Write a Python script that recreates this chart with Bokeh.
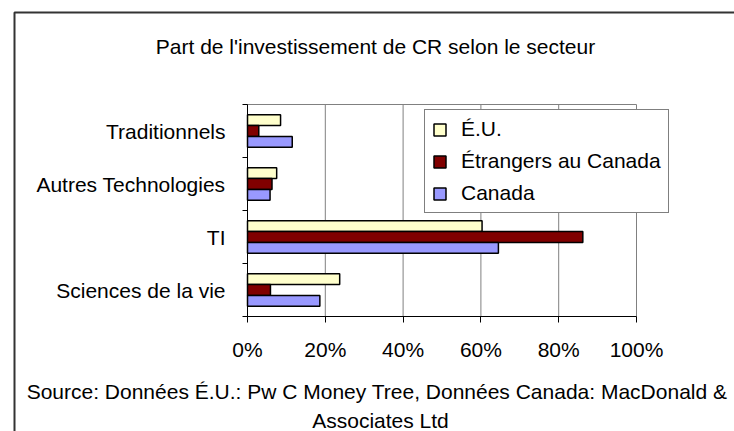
from bokeh.plotting import figure
from bokeh.models import Range1d, FixedTicker, LinearAxis, Label, Legend
from bokeh.embed import file_html
from bokeh.resources import INLINE

# ---- data ----
categories = ["Traditionnels", "Autres Technologies", "TI", "Sciences de la vie"]  # top to bottom
series_names = ["É.U.", "Étrangers au Canada", "Canada"]
eu = [8.5, 7.5, 60.3, 23.7]
etrangers = [2.9, 6.3, 86.2, 5.9]
canada = [11.5, 5.8, 64.5, 18.6]
x_ticks = [0, 20, 40, 60, 80, 100]
x_tick_labels = ["0%", "20%", "40%", "60%", "80%", "100%"]
title_text = "Part de l'investissement de CR selon le secteur"
source_lines = ["Source: Données É.U.: Pw C Money Tree, Données Canada: MacDonald &",
                "Associates Ltd"]

FONT = "Liberation Sans"
FS = "21px"
colors = ["#FFFFCC", "#800000", "#9999FF"]

# ---- layout (canvas pixels) ----
W, H = 734, 431
PX0, PX100 = 247, 636      # x pixel of 0% and 100%
PY0, PYN = 316, 104        # y pixel of bottom and top of the category band
n = len(categories)

def px2x(px):
    return (px - PX0) / (PX100 - PX0) * 100.0

def px2y(py):
    return (PY0 - py) / (PY0 - PYN) * n

p = figure(width=W, height=H, output_backend="svg", toolbar_location=None,
           x_range=Range1d(px2x(0), px2x(W)), y_range=Range1d(px2y(H), px2y(0)),
           x_axis_type=None, y_axis_type=None, min_border=0)
p.background_fill_color = "white"
p.border_fill_color = "white"
p.outline_line_color = None
p.xgrid.grid_line_color = None
p.ygrid.grid_line_color = None

# outer chart border (left and top edges visible)
p.line(x=[px2x(14), px2x(14), px2x(W + 20)], y=[px2y(H + 20), px2y(12), px2y(12)],
       line_color="#333333", line_width=2)

# gridlines and plot-area top edge
p.segment(x0=x_ticks, y0=0, x1=x_ticks, y1=n, line_color="#808080", line_width=1)
p.segment(x0=[x_ticks[0]], y0=[n], x1=[x_ticks[-1]], y1=[n], line_color="#808080", line_width=1)

centers = [n - i - 0.5 for i in range(n)]
bar_h = 0.205
offsets = [bar_h, 0.0, -bar_h]
items = []
for vals, off, col, name in zip([eu, etrangers, canada], offsets, colors, series_names):
    r = p.hbar(y=[c + off for c in centers], left=0, right=vals, height=bar_h,
               fill_color=col, line_color="black", line_width=1.5)
    items.append((name, [r]))

# x axis
xaxis = LinearAxis(ticker=FixedTicker(ticks=x_ticks, minor_ticks=[]),
                   major_label_overrides={t: l for t, l in zip(x_ticks, x_tick_labels)},
                   fixed_location=0, bounds=(x_ticks[0], x_ticks[-1]))
xaxis.axis_line_color = "black"
xaxis.major_tick_line_color = "black"
xaxis.major_tick_out = 6
xaxis.major_tick_in = 0
xaxis.major_label_standoff = 15
xaxis.major_label_text_font = FONT
xaxis.major_label_text_font_size = FS
xaxis.major_label_text_color = "black"
p.add_layout(xaxis, "below")

# y axis: labels at category centers, ticks at category boundaries
yaxis = LinearAxis(ticker=FixedTicker(ticks=centers, minor_ticks=list(range(n + 1))),
                   major_label_overrides={c: cat for c, cat in zip(centers, categories)},
                   fixed_location=0, bounds=(0, n))
yaxis.axis_line_color = "black"
yaxis.major_tick_line_color = None
yaxis.major_tick_out = 0
yaxis.major_tick_in = 0
yaxis.minor_tick_line_color = "black"
yaxis.minor_tick_out = 5
yaxis.minor_tick_in = 0
yaxis.major_label_standoff = 17
yaxis.major_label_text_font = FONT
yaxis.major_label_text_font_size = FS
yaxis.major_label_text_color = "black"
p.add_layout(yaxis, "left")

legend = Legend(items=items, location=(424, H - 213))
legend.label_text_font = FONT
legend.label_text_font_size = FS
legend.label_text_color = "black"
legend.glyph_width = 15
legend.glyph_height = 15
legend.label_height = 24
legend.spacing = 8
legend.padding = 7
legend.margin = 0
legend.label_standoff = 14
legend.border_line_color = "black"
legend.border_line_width = 1
legend.background_fill_color = "white"
legend.background_fill_alpha = 1
p.add_layout(legend, "center")

p.add_layout(Label(x=px2x(375), y=px2y(46), text=title_text, text_align="center",
                   text_baseline="alphabetic", text_font=FONT, text_font_size=FS,
                   text_color="black"))
for line, cx, base in zip(source_lines, [376.5, 380], [391, 420]):
    p.add_layout(Label(x=px2x(cx), y=px2y(base), text=line, text_align="center",
                       text_baseline="alphabetic", text_font=FONT, text_font_size=FS,
                       text_color="black"))

open("out.html", "w").write(file_html(p, INLINE))
